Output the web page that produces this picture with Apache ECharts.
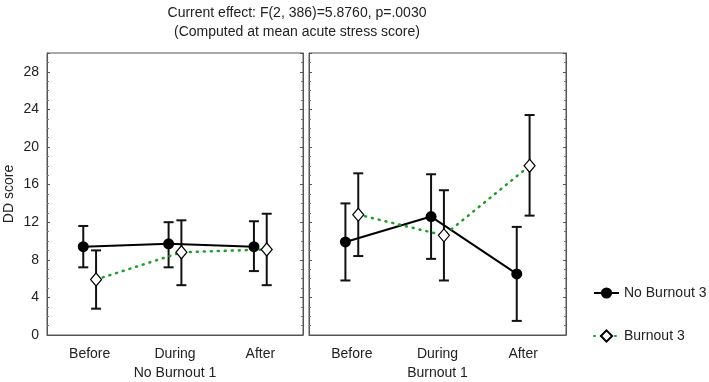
<!DOCTYPE html>
<html>
<head>
<meta charset="utf-8">
<script src="https://cdn.jsdelivr.net/npm/echarts@6/dist/echarts.min.js"></script>
<style>
  html, body { margin: 0; padding: 0; background: #fff; }
  #chart { width: 709px; height: 382px; }
</style>
</head>
<body>
<div id="chart"></div>
<script>
  const categories = ['Before', 'During', 'After'];
  const panels = ['No Burnout 1', 'Burnout 1'];

  // No Burnout 3 series (black, filled circle)
  const noBurnout3Mean = [[9.4, 9.7, 9.4], [9.9, 12.6, 6.5]];
  const noBurnout3Low = [[7.2, 7.2, 6.8], [5.8, 8.1, 1.5]];
  const noBurnout3High = [[11.6, 12.0, 12.1], [14.0, 17.1, 11.5]];

  // Burnout 3 series (green dotted, open diamond)
  const burnout3Mean = [[5.9, 8.8, 9.1], [12.8, 10.6, 18.0]];
  const burnout3Low = [[2.8, 5.3, 5.3], [8.4, 5.8, 12.7]];
  const burnout3High = [[9.0, 12.2, 12.9], [17.2, 15.4, 23.4]];

  const yTicks = [0, 4, 8, 12, 16, 20, 24, 28];

  const chart = echarts.init(document.getElementById('chart'));
  const font = 'Liberation Sans, Arial, sans-serif';
  const DX = 0.075; // horizontal dodge of the two series

  const grids = [
    { left: 47, top: 53, width: 256, height: 282, show: true, borderColor: '#555', borderWidth: 1, outerBoundsMode: 'none' },
    { left: 309, top: 53, width: 257, height: 282, show: true, borderColor: '#555', borderWidth: 1, outerBoundsMode: 'none' },
  ];

  const xAxes = [];
  const yAxes = [];
  panels.forEach((p, gi) => {
    // visible category axis
    xAxes.push({
      type: 'category', gridIndex: gi, data: categories,
      name: p, nameLocation: 'middle', nameGap: 31,
      nameTextStyle: { fontFamily: font, fontSize: 14, color: '#222' },
      axisLine: { onZero: false, lineStyle: { color: '#555' } },
      axisTick: { inside: true, alignWithLabel: true, length: 3, lineStyle: { color: '#555' } },
      axisLabel: { fontFamily: font, fontSize: 14, color: '#222', margin: 12 },
      splitLine: { show: false },
    });
    // hidden value axis used to place dodged points
    xAxes.push({
      type: 'value', gridIndex: gi, min: -0.5, max: 2.5, show: false,
      axisLine: { onZero: false },
    });
    [false, true].forEach((right) => {
      yAxes.push({
        type: 'value', gridIndex: gi, min: 0, max: 30, interval: 4,
        position: right ? 'right' : 'left',
        name: (!right && gi === 0) ? 'DD score' : '',
        nameLocation: 'middle', nameGap: 31,
        nameTextStyle: { fontFamily: font, fontSize: 14, color: '#222' },
        axisLine: { show: true, onZero: false, lineStyle: { color: '#555' } },
        axisTick: { inside: true, length: 3, lineStyle: { color: '#555' } },
        minorTick: { show: true, splitNumber: 4, length: 2, lineStyle: { color: '#777' } },
        axisLabel: {
          show: !right && gi === 0, fontFamily: font, fontSize: 14, color: '#222', margin: 8,
          showMaxLabel: false,
          formatter: (v) => (yTicks.includes(v) ? String(v) : ''),
        },
        splitLine: { show: false },
      });
    });
  });

  const series = [];
  const groups = [
    { name: 'No Burnout 3', mean: noBurnout3Mean, low: noBurnout3Low, high: noBurnout3High, dx: -DX,
      line: { color: '#000', width: 2, type: 'solid' },
      symbol: 'circle', symbolSize: 11, itemStyle: { color: '#000' } },
    { name: 'Burnout 3', mean: burnout3Mean, low: burnout3Low, high: burnout3High, dx: DX,
      line: { color: '#1f9e2a', width: 2.5, type: [1, 6], cap: 'round' },
      symbol: 'diamond', symbolSize: [11, 13], itemStyle: { color: '#fff', borderColor: '#000', borderWidth: 1.2 } },
  ];

  panels.forEach((p, gi) => {
    groups.forEach((g) => {
      const pts = categories.map((c, i) => [i + g.dx, g.mean[gi][i]]);
      const bars = categories.map((c, i) => [i + g.dx, g.low[gi][i], g.high[gi][i]]);
      series.push({
        type: 'custom', xAxisIndex: gi * 2 + 1, yAxisIndex: gi * 2, z: 2,
        silent: true, data: bars,
        renderItem: (params, api) => {
          const x = api.value(0);
          const lo = api.coord([x, api.value(1)]);
          const hi = api.coord([x, api.value(2)]);
          const w = 5;
          const st = { stroke: '#111', lineWidth: 2 };
          return {
            type: 'group',
            children: [
              { type: 'line', shape: { x1: lo[0], y1: lo[1], x2: hi[0], y2: hi[1] }, style: st },
              { type: 'line', shape: { x1: lo[0] - w, y1: lo[1], x2: lo[0] + w, y2: lo[1] }, style: st },
              { type: 'line', shape: { x1: hi[0] - w, y1: hi[1], x2: hi[0] + w, y2: hi[1] }, style: st },
            ],
          };
        },
      });
      series.push({
        name: g.name, type: 'line', xAxisIndex: gi * 2 + 1, yAxisIndex: gi * 2, z: 3,
        data: pts, symbol: g.symbol, symbolSize: g.symbolSize, showAllSymbol: true,
        lineStyle: g.line, itemStyle: g.itemStyle, animation: false,
      });
    });
  });

  const option = {
    animation: false,
    title: {
      text: 'Current effect: F(2, 386)=5.8760, p=.0030\n(Computed at mean acute stress score)',
      left: 297, top: 4, padding: 0, textAlign: 'center',
      textStyle: { fontFamily: font, fontSize: 14, fontWeight: 'normal', color: '#222', lineHeight: 19 },
    },
    legend: {
      orient: 'vertical', left: 588, top: 281, itemWidth: 25, itemHeight: 14, itemGap: 29,
      textStyle: { fontFamily: font, fontSize: 14, color: '#222' },
      data: ['No Burnout 3', 'Burnout 3'],
    },
    grid: grids,
    xAxis: xAxes,
    yAxis: yAxes,
    series,
  };

  chart.setOption(option);
</script>
</body>
</html>
